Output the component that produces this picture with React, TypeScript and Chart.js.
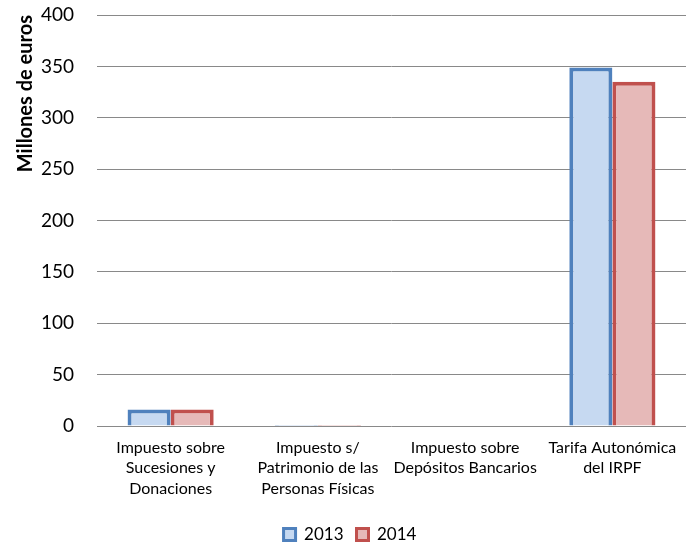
import React, { useEffect, useRef } from "react";
import { Chart, registerables } from "chart.js";

Chart.register(...registerables);

const categories: string[][] = [
  ["Impuesto sobre", "Sucesiones y", "Donaciones"],
  ["Impuesto s/", "Patrimonio de las", "Personas Físicas"],
  ["Impuesto sobre", "Depósitos Bancarios"],
  ["Tarifa Autonómica", "del IRPF"],
];
const values2013: number[] = [16, 1, 0, 349];
const values2014: number[] = [16, 1, 0, 335];
const yTitle = "Millones de euros";

export default function App() {
  const ref = useRef<HTMLCanvasElement>(null);
  useEffect(() => {
    document.body.style.margin = "0";
    const ctx = ref.current!;
    const font = "Lato, 'Open Sans', sans-serif";
    const chart = new Chart(ctx, {
      type: "bar",
      data: {
        labels: categories,
        datasets: [
          {
            label: "2013",
            data: values2013,
            backgroundColor: "#C6D9F1",
            borderColor: "#4F81BD",
            borderWidth: 4,
            categoryPercentage: 0.585,
            barPercentage: 1,
          },
          {
            label: "2014",
            data: values2014,
            backgroundColor: "#E6B9B8",
            borderColor: "#C0504D",
            borderWidth: 4,
            categoryPercentage: 0.585,
            barPercentage: 1,
          },
        ],
      },
      options: {
        animation: false,
        responsive: false,
        maintainAspectRatio: false,
        layout: { padding: { top: 0, right: 0, left: 14, bottom: -6 } },
        scales: {
          x: {
            grid: { display: false, drawTicks: false },
            border: { display: false },
            ticks: { color: "#000", font: { family: font, size: 16, lineHeight: 1.3 }, maxRotation: 0, padding: 11 },
            afterFit: (s: any) => {
              s.height = 87;
              s.paddingLeft = 0;
              s.paddingRight = 0;
            },
          },
          y: {
            min: 0,
            max: 400,
            ticks: { stepSize: 50, color: "#000", font: { family: font, size: 19 }, padding: 23 },
            grid: { color: "#898989", lineWidth: 1, drawTicks: false },
            border: { display: false },
            title: {
              display: true,
              text: yTitle,
              align: "end",
              color: "#000",
              font: { family: font, size: 20, weight: "bold" },
              padding: 0,
            },
            afterFit: (s: any) => {
              s.width = 83;
              s.paddingTop = 15;
              s.paddingBottom = 0;
            },
          },
        },
        plugins: {
          legend: {
            position: "bottom",
            labels: {
              color: "#000",
              font: { family: font, size: 17 },
              boxWidth: 12,
              boxHeight: 12,
              padding: 13,
              generateLabels: (c: any) =>
                c.data.datasets.map((d: any, i: number) => ({
                  text: d.label,
                  fillStyle: d.backgroundColor,
                  strokeStyle: d.borderColor,
                  lineWidth: 3,
                  datasetIndex: i,
                  fontColor: "#000",
                })),
            },
          },
          tooltip: { enabled: false },
        },
      },
    });
    return () => chart.destroy();
  }, []);
  return <canvas ref={ref} width={686} height={547} style={{ display: "block" }} />;
}
